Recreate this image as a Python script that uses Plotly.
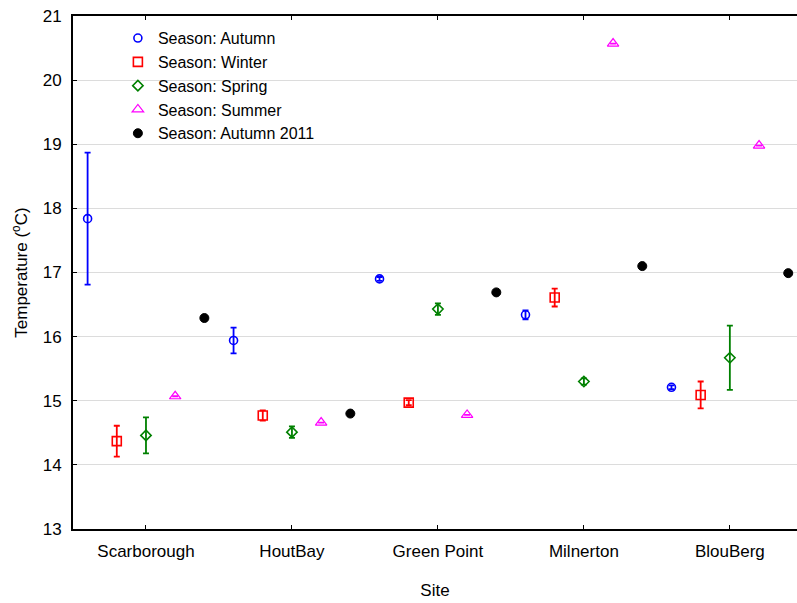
import plotly.graph_objects as go

sites = ["Scarborough", "HoutBay", "Green Point", "Milnerton", "BlouBerg"]
seasons = ["Season: Autumn", "Season: Winter", "Season: Spring", "Season: Summer", "Season: Autumn 2011"]

autumn = [17.84, 15.94, 16.90, 16.34, 15.21]
autumn_err = [1.03, 0.20, 0.03, 0.07, 0.03]
winter = [14.37, 14.77, 14.97, 16.61, 15.09]
winter_err = [0.24, 0.08, 0.04, 0.14, 0.21]
spring = [14.46, 14.51, 16.43, 15.30, 15.67]
spring_err = [0.28, 0.09, 0.09, 0.05, 0.50]
summer = [15.07, 14.66, 14.78, 20.57, 18.98]
summer_err = [0.0, 0.0, 0.0, 0.0, 0.0]
autumn2011 = [16.29, 14.80, 16.69, 17.10, 16.99]
autumn2011_err = [0.0, 0.0, 0.0, 0.0, 0.0]

values = [autumn, winter, spring, summer, autumn2011]
errors = [autumn_err, winter_err, spring_err, summer_err, autumn2011_err]
colors = ["#0000ff", "#ff0000", "#008000", "#ff00ff", "#000000"]
symbols = ["circle-open", "square-open", "diamond-open", "triangle-up-open", "circle"]
sizes = [8, 9, 8, 10, 9]
linewidths = [1.6, 1.6, 1.6, 1.2, 1.0]
offsets = [-0.4, -0.2, 0.0, 0.2, 0.4]

fig = go.Figure()
for j, name in enumerate(seasons):
    xs = [i + offsets[j] for i in range(len(sites))]
    fig.add_trace(go.Scatter(
        x=xs, y=values[j], mode="markers", name=name,
        marker=dict(symbol=symbols[j], size=sizes[j], color=colors[j],
                    line=dict(width=linewidths[j], color=colors[j])),
        error_y=dict(type="data", array=errors[j], visible=True,
                     color=colors[j], thickness=1.8, width=3),
    ))

font = "Liberation Sans, Arial, sans-serif"
fig.update_layout(
    width=797, height=603,
    margin=dict(l=73, r=0, t=16, b=74),
    paper_bgcolor="white", plot_bgcolor="white",
    font=dict(family=font, size=17, color="#000000"),
    showlegend=True,
    legend=dict(x=0.062, y=0.99, xanchor="left", yanchor="top",
                bgcolor="rgba(0,0,0,0)", font=dict(size=16, family=font),
                itemwidth=30),
    xaxis=dict(range=[-0.5, 4.46], tickvals=list(range(len(sites))), ticktext=sites,
               showgrid=False, zeroline=False, showline=True, linecolor="black",
               linewidth=2, mirror="ticks", ticks="inside", ticklen=4, tickcolor="black",
               ticklabelstandoff=6,
               title=dict(text="Site", standoff=24, font=dict(size=17)),
               tickfont=dict(size=17)),
    yaxis=dict(range=[13, 21], tickvals=list(range(13, 22)),
               showgrid=True, gridcolor="#dcdcdc", gridwidth=1, zeroline=False,
               showline=True, linecolor="black", linewidth=2, mirror=False,
               ticks="inside", ticklen=4, tickcolor="black",
               ticklabelstandoff=6,
               title=dict(text="Temperature (<sup>o</sup>C)", standoff=11, font=dict(size=17)),
               tickfont=dict(size=17)),
)

fig.write_html("out.html")
